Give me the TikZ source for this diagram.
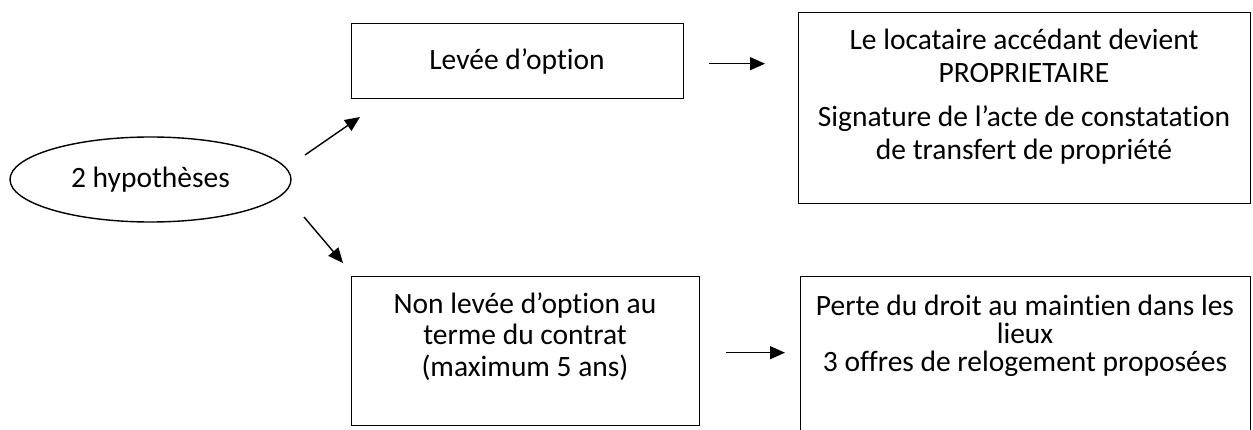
\documentclass[tikz,border=0pt]{standalone}
\usepackage{fontspec}
\setmainfont{Carlito}[Ligatures=NoCommon]
\usetikzlibrary{shapes.geometric,arrows.meta,calc}
\newcommand{\topstrut}{\rule{0pt}{24pt}}
\tikzset{
  box/.style={draw, line width=1.4pt, rectangle, inner sep=0pt, anchor=north west},
  oval/.style={draw, line width=1.4pt, ellipse, inner sep=0pt},
  txt/.style={align=center, anchor=base, inner sep=0pt, font=\fontsize{29.5}{33}\selectfont},
  mtxt/.style={align=center, anchor=north, inner sep=0pt,
    font={\fontsize{29.5}{#1}\selectfont\lineskiplimit=-100pt}},
  arr/.style={line width=1.4pt, -{Triangle[length=15pt,width=13pt]}}
}
\begin{document}
\begin{tikzpicture}[x=1pt,y=-1pt]
\clip (0,0) rectangle (1253,430);
\useasboundingbox (0,0) rectangle (1253,430);
% ellipse
\node[oval, minimum width=281pt, minimum height=85pt] (hyp) at (150.5,179.5) {};
\node[txt] (hypt) at (150.5,188) {2 hypothèses};
% boxes
\node[box, minimum width=332pt, minimum height=75pt] (lev) at (351,23) {};
\node[txt] (levt) at (517,70) {Levée d’option};
\node[box, minimum width=452pt, minimum height=191pt] (prop) at (798,12) {};
\node[mtxt=33] (propt) at (1024,49-24) {\topstrut Le locataire accédant devient\\PROPRIETAIRE\\[11pt]Signature de l’acte de constatation\\de transfert de propriété};
\node[box, minimum width=348pt, minimum height=149pt] (non) at (351,276) {};
\node[mtxt=31] (nont) at (525,313-24) {\topstrut Non levée d’option au\\terme du contrat\\[1pt](maximum 5 ans)};
\node[box, minimum width=450pt, minimum height=170pt] (perte) at (800,276) {};
\node[mtxt=28] (pertet) at (1025,315-24) {\topstrut Perte du droit au maintien dans les\\lieux\\[0pt]3 offres de relogement proposées};
% connectors
\coordinate (a1s) at (305,155);
\coordinate (a1e) at (360,117);
\draw[arr] (a1s) -- (a1e);
\coordinate (a2s) at (304,217);
\coordinate (a2e) at (343,263);
\draw[arr] (a2s) -- (a2e);
\draw[arr] ($(lev.east)+(25,2.5)$) -- ($(lev.east -| prop.west)+(-33,2.5)$);
\draw[arr] ($(non.east)+(26,1.5)$) -- ($(non.east -| perte.west)+(-15,1.5)$);
\end{tikzpicture}
\end{document}
